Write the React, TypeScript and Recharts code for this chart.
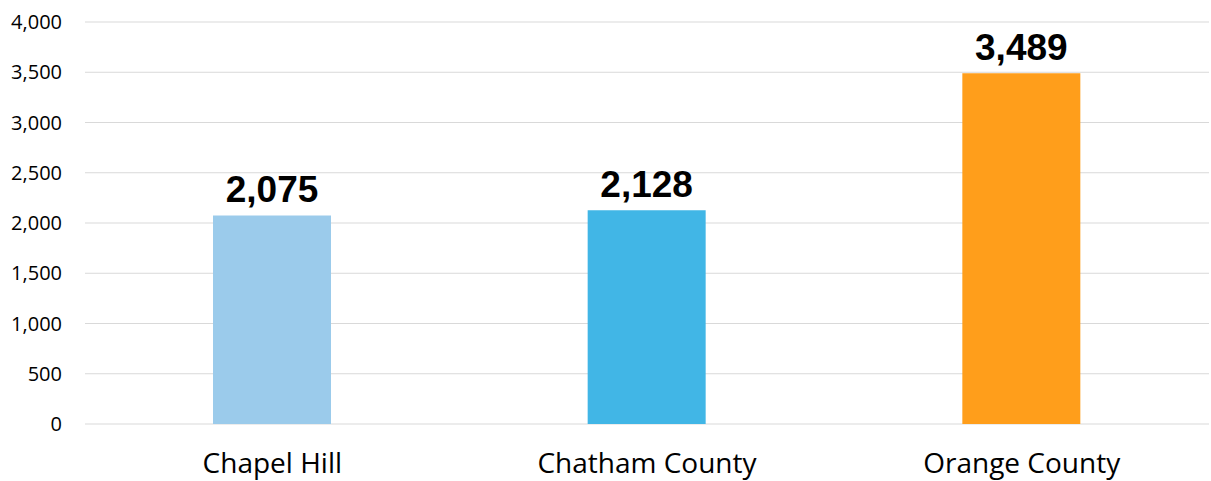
import { BarChart, Bar, XAxis, YAxis, CartesianGrid, Cell, LabelList } from 'recharts';

const categories = ['Chapel Hill', 'Chatham County', 'Orange County'];
const values = [2075, 2128, 3489];
const barColors = ['#9BCBEB', '#41B6E6', '#FF9E1B'];
const yTicks = [0, 500, 1000, 1500, 2000, 2500, 3000, 3500, 4000];

const data = categories.map((name, i) => ({ name, value: values[i] }));

const fmt = (v: number) => v.toLocaleString('en-US');

export default function App() {
  return (
    <div style={{ position: 'absolute', left: 0, top: 0, background: '#fff' }}>
      <BarChart
        width={1211}
        height={481}
        data={data}
        margin={{ top: 22, right: 2, bottom: 0, left: 0 }}
      >
        <CartesianGrid vertical={false} stroke="#d9d9d9" strokeWidth={1} />
        <XAxis
          dataKey="name"
          axisLine={false}
          tickLine={false}
          height={57}
          tickMargin={23}
          tick={{ fill: '#000', fontSize: 28, fontFamily: 'Open Sans' }}
        />
        <YAxis
          domain={[0, 4000]}
          ticks={yTicks}
          axisLine={false}
          tickLine={false}
          width={85}
          tickMargin={17}
          tickFormatter={fmt}
          tick={{ fill: '#000', fontSize: 20, fontFamily: 'Open Sans' }}
        />
        <Bar dataKey="value" barSize={118} isAnimationActive={false}>
          {data.map((d, i) => (
            <Cell key={d.name} fill={barColors[i]} />
          ))}
          <LabelList
            dataKey="value"
            position="top"
            offset={13}
            formatter={(v: any) => fmt(Number(v))}
            style={{ fill: '#000', fontSize: 37, fontWeight: 'bold', fontFamily: 'Liberation Sans, Arial' }}
          />
        </Bar>
      </BarChart>
    </div>
  );
}
